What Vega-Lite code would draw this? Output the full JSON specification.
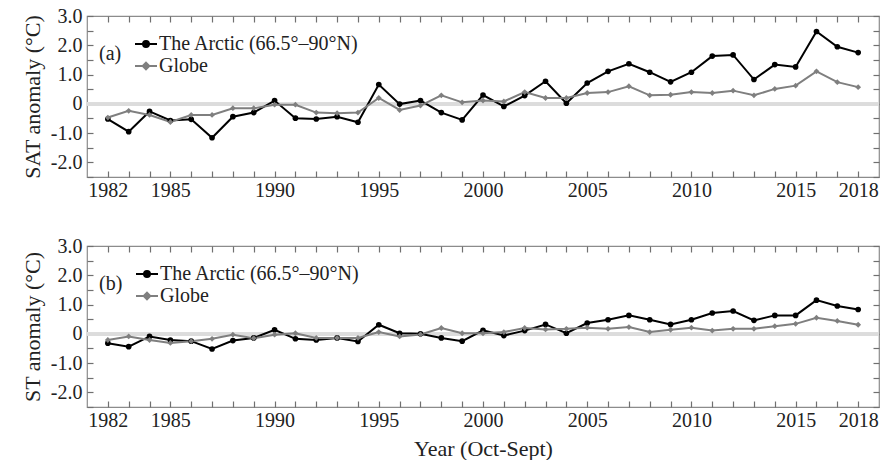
{
  "$schema": "https://vega.github.io/schema/vega-lite/v6.json",
  "autosize": {"type": "pad"},
  "padding": {"left": 20, "top": 5, "right": 0, "bottom": 0},
  "background": "white",
  "config": {
    "view": {"stroke": "#8c8c8c", "strokeWidth": 1.2},
    "font": "Liberation Serif",
    "axis": {"labelFont": "Liberation Serif", "titleFont": "Liberation Serif", "labelColor": "#222", "titleColor": "#222", "titleFontWeight": "normal", "domain": false, "grid": false, "tickColor": "#707070", "tickSize": 6, "tickWidth": 1.2, "offset": -6},
    "legend": {"labelFont": "Liberation Serif", "titleFont": "Liberation Serif"}
  },
  "datasets": {
    "d": [
      {"year": 1982, "series": "The Arctic (66.5°–90°N)", "sat": -0.52, "st": -0.32},
      {"year": 1983, "series": "The Arctic (66.5°–90°N)", "sat": -0.95, "st": -0.44},
      {"year": 1984, "series": "The Arctic (66.5°–90°N)", "sat": -0.26, "st": -0.09},
      {"year": 1985, "series": "The Arctic (66.5°–90°N)", "sat": -0.57, "st": -0.21},
      {"year": 1986, "series": "The Arctic (66.5°–90°N)", "sat": -0.53, "st": -0.25},
      {"year": 1987, "series": "The Arctic (66.5°–90°N)", "sat": -1.16, "st": -0.52},
      {"year": 1988, "series": "The Arctic (66.5°–90°N)", "sat": -0.44, "st": -0.23},
      {"year": 1989, "series": "The Arctic (66.5°–90°N)", "sat": -0.30, "st": -0.14},
      {"year": 1990, "series": "The Arctic (66.5°–90°N)", "sat": 0.11, "st": 0.14},
      {"year": 1991, "series": "The Arctic (66.5°–90°N)", "sat": -0.49, "st": -0.17},
      {"year": 1992, "series": "The Arctic (66.5°–90°N)", "sat": -0.52, "st": -0.21},
      {"year": 1993, "series": "The Arctic (66.5°–90°N)", "sat": -0.44, "st": -0.14},
      {"year": 1994, "series": "The Arctic (66.5°–90°N)", "sat": -0.63, "st": -0.26},
      {"year": 1995, "series": "The Arctic (66.5°–90°N)", "sat": 0.66, "st": 0.31},
      {"year": 1996, "series": "The Arctic (66.5°–90°N)", "sat": -0.01, "st": 0.02},
      {"year": 1997, "series": "The Arctic (66.5°–90°N)", "sat": 0.11, "st": 0.0},
      {"year": 1998, "series": "The Arctic (66.5°–90°N)", "sat": -0.30, "st": -0.14},
      {"year": 1999, "series": "The Arctic (66.5°–90°N)", "sat": -0.55, "st": -0.25},
      {"year": 2000, "series": "The Arctic (66.5°–90°N)", "sat": 0.30, "st": 0.12},
      {"year": 2001, "series": "The Arctic (66.5°–90°N)", "sat": -0.09, "st": -0.06},
      {"year": 2002, "series": "The Arctic (66.5°–90°N)", "sat": 0.28, "st": 0.11},
      {"year": 2003, "series": "The Arctic (66.5°–90°N)", "sat": 0.77, "st": 0.32},
      {"year": 2004, "series": "The Arctic (66.5°–90°N)", "sat": 0.02, "st": 0.02},
      {"year": 2005, "series": "The Arctic (66.5°–90°N)", "sat": 0.71, "st": 0.37},
      {"year": 2006, "series": "The Arctic (66.5°–90°N)", "sat": 1.11, "st": 0.48},
      {"year": 2007, "series": "The Arctic (66.5°–90°N)", "sat": 1.37, "st": 0.63},
      {"year": 2008, "series": "The Arctic (66.5°–90°N)", "sat": 1.08, "st": 0.48},
      {"year": 2009, "series": "The Arctic (66.5°–90°N)", "sat": 0.75, "st": 0.32},
      {"year": 2010, "series": "The Arctic (66.5°–90°N)", "sat": 1.08, "st": 0.48},
      {"year": 2011, "series": "The Arctic (66.5°–90°N)", "sat": 1.63, "st": 0.71},
      {"year": 2012, "series": "The Arctic (66.5°–90°N)", "sat": 1.67, "st": 0.78},
      {"year": 2013, "series": "The Arctic (66.5°–90°N)", "sat": 0.83, "st": 0.46},
      {"year": 2014, "series": "The Arctic (66.5°–90°N)", "sat": 1.34, "st": 0.63},
      {"year": 2015, "series": "The Arctic (66.5°–90°N)", "sat": 1.26, "st": 0.63},
      {"year": 2016, "series": "The Arctic (66.5°–90°N)", "sat": 2.47, "st": 1.15},
      {"year": 2017, "series": "The Arctic (66.5°–90°N)", "sat": 1.95, "st": 0.95},
      {"year": 2018, "series": "The Arctic (66.5°–90°N)", "sat": 1.75, "st": 0.83},
      {"year": 1982, "series": "Globe", "sat": -0.47, "st": -0.21},
      {"year": 1983, "series": "Globe", "sat": -0.24, "st": -0.09},
      {"year": 1984, "series": "Globe", "sat": -0.38, "st": -0.21},
      {"year": 1985, "series": "Globe", "sat": -0.62, "st": -0.31},
      {"year": 1986, "series": "Globe", "sat": -0.38, "st": -0.25},
      {"year": 1987, "series": "Globe", "sat": -0.38, "st": -0.17},
      {"year": 1988, "series": "Globe", "sat": -0.15, "st": -0.03},
      {"year": 1989, "series": "Globe", "sat": -0.15, "st": -0.15},
      {"year": 1990, "series": "Globe", "sat": -0.03, "st": -0.03},
      {"year": 1991, "series": "Globe", "sat": -0.03, "st": 0.02},
      {"year": 1992, "series": "Globe", "sat": -0.30, "st": -0.14},
      {"year": 1993, "series": "Globe", "sat": -0.32, "st": -0.14},
      {"year": 1994, "series": "Globe", "sat": -0.30, "st": -0.14},
      {"year": 1995, "series": "Globe", "sat": 0.20, "st": 0.06},
      {"year": 1996, "series": "Globe", "sat": -0.21, "st": -0.09},
      {"year": 1997, "series": "Globe", "sat": -0.06, "st": -0.02},
      {"year": 1998, "series": "Globe", "sat": 0.29, "st": 0.20},
      {"year": 1999, "series": "Globe", "sat": 0.05, "st": 0.02},
      {"year": 2000, "series": "Globe", "sat": 0.11, "st": 0.02},
      {"year": 2001, "series": "Globe", "sat": 0.08, "st": 0.06},
      {"year": 2002, "series": "Globe", "sat": 0.40, "st": 0.20},
      {"year": 2003, "series": "Globe", "sat": 0.20, "st": 0.15},
      {"year": 2004, "series": "Globe", "sat": 0.20, "st": 0.17},
      {"year": 2005, "series": "Globe", "sat": 0.37, "st": 0.21},
      {"year": 2006, "series": "Globe", "sat": 0.40, "st": 0.17},
      {"year": 2007, "series": "Globe", "sat": 0.60, "st": 0.23},
      {"year": 2008, "series": "Globe", "sat": 0.29, "st": 0.06},
      {"year": 2009, "series": "Globe", "sat": 0.31, "st": 0.14},
      {"year": 2010, "series": "Globe", "sat": 0.40, "st": 0.21},
      {"year": 2011, "series": "Globe", "sat": 0.37, "st": 0.11},
      {"year": 2012, "series": "Globe", "sat": 0.45, "st": 0.17},
      {"year": 2013, "series": "Globe", "sat": 0.29, "st": 0.17},
      {"year": 2014, "series": "Globe", "sat": 0.51, "st": 0.26},
      {"year": 2015, "series": "Globe", "sat": 0.62, "st": 0.34},
      {"year": 2016, "series": "Globe", "sat": 1.11, "st": 0.55},
      {"year": 2017, "series": "Globe", "sat": 0.74, "st": 0.44},
      {"year": 2018, "series": "Globe", "sat": 0.57, "st": 0.31}
    ]
  },
  "vconcat": [
    {
      "width": 792, "height": 161,
      "data": {"name": "d"},
      "layer": [
        {"mark": {"type": "rule", "color": "#dcdcdc", "strokeWidth": 3}, "encoding": {"y": {"datum": 0, "type": "quantitative", "axis": null}}},
        {
          "mark": {"type": "line", "strokeWidth": 2},
          "encoding": {
            "x": {"field": "year", "type": "quantitative", "scale": {"domain": [1981, 2019], "nice": false, "zero": false},
                  "axis": {"orient": "bottom", "title": null, "values": [1982,1983,1984,1985,1986,1987,1988,1989,1990,1991,1992,1993,1994,1995,1996,1997,1998,1999,2000,2001,2002,2003,2004,2005,2006,2007,2008,2009,2010,2011,2012,2013,2014,2015,2016,2017,2018],
                           "labelExpr": "indexof([1982,1985,1990,1995,2000,2005,2010,2015,2018], datum.value) >= 0 ? '' + datum.value : ''", "labelFontSize": 20, "labelPadding": 3, "labelFlush": false}},
            "y": {"field": "sat", "type": "quantitative", "scale": {"domain": [-2.5, 3.0], "nice": false},
                  "axis": {"orient": "left", "title": "SAT anomaly (°C)", "titleFontSize": 22, "titlePadding": 6, "values": [-2.5,-2,-1.5,-1,-0.5,0,0.5,1,1.5,2,2.5,3],
                           "labelExpr": "datum.value % 1 != 0 ? '' : (datum.value == 0 ? '0' : (datum.value < 0 ? '-' + format(-datum.value, '.1f') : format(datum.value, '.1f')))", "labelFontSize": 20, "labelPadding": 5, "labelBaseline": "middle"}},
            "color": {"field": "series", "type": "nominal", "scale": {"domain": ["The Arctic (66.5°–90°N)", "Globe"], "range": ["#000000", "#7f7f7f"]},
                      "legend": {"title": "(a)", "titleOrient": "left", "titleFontSize": 20, "titleFontWeight": "normal", "titleColor": "#222", "titlePadding": 12, "orient": "none", "legendX": 12, "legendY": 16, "symbolSize": 484, "symbolStrokeWidth": 2, "labelFontSize": 20, "labelColor": "#222", "labelLimit": 400, "rowPadding": -1, "labelOffset": 1,
                                 "encode": {"symbols": {"update": {"shape": {"signal": "datum.value == 'Globe' ? 'M-1,0L1,0M0,-0.3L0.3,0L0,0.3L-0.3,0Z' : 'M-1,0L1,0M-0.27,0A0.27,0.27 0 1,0 0.27,0A0.27,0.27 0 1,0 -0.27,0Z'"}, "fill": {"signal": "datum.value == 'Globe' ? '#7f7f7f' : '#000000'"}, "stroke": {"signal": "datum.value == 'Globe' ? '#7f7f7f' : '#000000'"}, "opacity": {"value": 1}}}}}}
          }
        },
        {
          "transform": [{"filter": "datum.series != 'Globe'"}],
          "mark": {"type": "point", "filled": true, "size": 32, "opacity": 1, "shape": "circle", "color": "#000000"},
          "encoding": {
            "x": {"field": "year", "type": "quantitative", "axis": {"orient": "top", "labels": false, "title": null, "values": [1982,1983,1984,1985,1986,1987,1988,1989,1990,1991,1992,1993,1994,1995,1996,1997,1998,1999,2000,2001,2002,2003,2004,2005,2006,2007,2008,2009,2010,2011,2012,2013,2014,2015,2016,2017,2018]}},
            "y": {"field": "sat", "type": "quantitative", "axis": {"orient": "right", "labels": false, "title": null, "values": [-2.5,-2,-1.5,-1,-0.5,0,0.5,1,1.5,2,2.5,3]}}
          }
        },
        {
          "transform": [{"filter": "datum.series == 'Globe'"}],
          "mark": {"type": "point", "filled": true, "size": 34, "opacity": 1, "shape": "diamond", "color": "#7f7f7f"},
          "encoding": {
            "x": {"field": "year", "type": "quantitative", "axis": null},
            "y": {"field": "sat", "type": "quantitative", "axis": null}
          }
        }
      ],
      "resolve": {"axis": {"x": "independent", "y": "independent"}}
    },
    {
      "width": 792, "height": 161,
      "data": {"name": "d"},
      "layer": [
        {"mark": {"type": "rule", "color": "#dcdcdc", "strokeWidth": 3}, "encoding": {"y": {"datum": 0, "type": "quantitative", "axis": null}}},
        {
          "mark": {"type": "line", "strokeWidth": 2},
          "encoding": {
            "x": {"field": "year", "type": "quantitative", "scale": {"domain": [1981, 2019], "nice": false, "zero": false},
                  "axis": {"orient": "bottom", "title": "Year (Oct-Sept)", "titleFontSize": 22, "titlePadding": 8, "values": [1982,1983,1984,1985,1986,1987,1988,1989,1990,1991,1992,1993,1994,1995,1996,1997,1998,1999,2000,2001,2002,2003,2004,2005,2006,2007,2008,2009,2010,2011,2012,2013,2014,2015,2016,2017,2018],
                           "labelExpr": "indexof([1982,1985,1990,1995,2000,2005,2010,2015,2018], datum.value) >= 0 ? '' + datum.value : ''", "labelFontSize": 20, "labelPadding": 3, "labelFlush": false}},
            "y": {"field": "st", "type": "quantitative", "scale": {"domain": [-2.5, 3.0], "nice": false},
                  "axis": {"orient": "left", "title": "ST anomaly (°C)", "titleFontSize": 22, "titlePadding": 6, "values": [-2.5,-2,-1.5,-1,-0.5,0,0.5,1,1.5,2,2.5,3],
                           "labelExpr": "datum.value % 1 != 0 ? '' : (datum.value == 0 ? '0' : (datum.value < 0 ? '-' + format(-datum.value, '.1f') : format(datum.value, '.1f')))", "labelFontSize": 20, "labelPadding": 5, "labelBaseline": "middle"}},
            "color": {"field": "series", "type": "nominal", "scale": {"domain": ["The Arctic (66.5°–90°N)", "Globe"], "range": ["#000000", "#7f7f7f"]},
                      "legend": {"title": "(b)", "titleOrient": "left", "titleFontSize": 20, "titleFontWeight": "normal", "titleColor": "#222", "titlePadding": 12, "orient": "none", "legendX": 12, "legendY": 16, "symbolSize": 484, "symbolStrokeWidth": 2, "labelFontSize": 20, "labelColor": "#222", "labelLimit": 400, "rowPadding": -1, "labelOffset": 1,
                                 "encode": {"symbols": {"update": {"shape": {"signal": "datum.value == 'Globe' ? 'M-1,0L1,0M0,-0.3L0.3,0L0,0.3L-0.3,0Z' : 'M-1,0L1,0M-0.27,0A0.27,0.27 0 1,0 0.27,0A0.27,0.27 0 1,0 -0.27,0Z'"}, "fill": {"signal": "datum.value == 'Globe' ? '#7f7f7f' : '#000000'"}, "stroke": {"signal": "datum.value == 'Globe' ? '#7f7f7f' : '#000000'"}, "opacity": {"value": 1}}}}}}
          }
        },
        {
          "transform": [{"filter": "datum.series != 'Globe'"}],
          "mark": {"type": "point", "filled": true, "size": 32, "opacity": 1, "shape": "circle", "color": "#000000"},
          "encoding": {
            "x": {"field": "year", "type": "quantitative", "axis": {"orient": "top", "labels": false, "title": null, "values": [1982,1983,1984,1985,1986,1987,1988,1989,1990,1991,1992,1993,1994,1995,1996,1997,1998,1999,2000,2001,2002,2003,2004,2005,2006,2007,2008,2009,2010,2011,2012,2013,2014,2015,2016,2017,2018]}},
            "y": {"field": "st", "type": "quantitative", "axis": {"orient": "right", "labels": false, "title": null, "values": [-2.5,-2,-1.5,-1,-0.5,0,0.5,1,1.5,2,2.5,3]}}
          }
        },
        {
          "transform": [{"filter": "datum.series == 'Globe'"}],
          "mark": {"type": "point", "filled": true, "size": 34, "opacity": 1, "shape": "diamond", "color": "#7f7f7f"},
          "encoding": {
            "x": {"field": "year", "type": "quantitative", "axis": null},
            "y": {"field": "st", "type": "quantitative", "axis": null}
          }
        }
      ],
      "resolve": {"axis": {"x": "independent", "y": "independent"}}
    }
  ],
  "spacing": 69,
  "bounds": "flush",
  "resolve": {"scale": {"color": "independent"}, "legend": {"color": "independent"}}
}
